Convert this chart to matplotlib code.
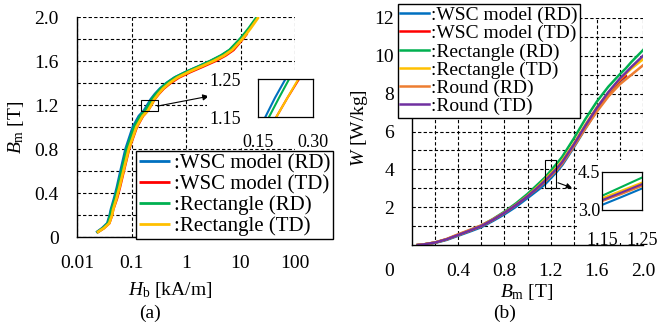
import matplotlib
matplotlib.use('Agg')
import matplotlib.pyplot as plt
from matplotlib.patches import Rectangle
from matplotlib.ticker import LogLocator, FixedLocator, NullFormatter

plt.rcParams['font.family'] = ['Liberation Serif', 'DejaVu Serif']
plt.rcParams['mathtext.fontset'] = 'custom'
plt.rcParams['mathtext.rm'] = 'Liberation Serif'
plt.rcParams['mathtext.it'] = 'Liberation Serif:italic'

# ---------------- data (a): B-H curves ----------------
Ba = [0.04, 0.08, 0.125, 0.2, 0.25, 0.35, 0.45, 0.6, 0.8, 1.0, 1.1, 1.15, 1.2, 1.25,
      1.3, 1.35, 1.4, 1.45, 1.5, 1.55, 1.6, 1.65, 1.7, 1.8, 1.85, 1.9, 2.0]
H_wsc_rd = [0.0225, 0.029, 0.036, 0.040, 0.042, 0.048, 0.054, 0.063, 0.078, 0.106, 0.137,
            0.170, 0.196, 0.225, 0.27, 0.335, 0.44, 0.62, 1.0, 1.7, 2.85, 4.5, 6.4, 10.0, 12.2]
H_wsc_td = [0.0232, 0.031, 0.039, 0.044, 0.046, 0.054, 0.061, 0.072, 0.090, 0.125, 0.162,
            0.200, 0.230, 0.262, 0.315, 0.39, 0.52, 0.74, 1.2, 2.05, 3.45, 5.3, 7.4, 11.0, 13.2]
H_rect_rd = [0.0229, 0.030, 0.037, 0.041, 0.043, 0.050, 0.056, 0.066, 0.082, 0.112, 0.145,
             0.180, 0.207, 0.235, 0.28, 0.345, 0.45, 0.63, 1.0, 1.7, 2.8, 4.4, 6.3, 9.8, 11.9, 14.3, 20.0]
H_rect_td = [0.0232, 0.031, 0.039, 0.044, 0.046, 0.053, 0.060, 0.071, 0.089, 0.123, 0.160,
             0.200, 0.230, 0.260, 0.31, 0.38, 0.50, 0.70, 1.12, 1.9, 3.2, 5.0, 7.0, 10.8, 13.0, 15.5, 21.5]

# ---------------- data (b): iron loss curves ----------------
Bb = [0.05, 0.1, 0.2, 0.3, 0.4, 0.5, 0.6, 0.7, 0.8, 0.9, 1.0, 1.1, 1.15, 1.2, 1.25,
      1.3, 1.4, 1.5, 1.6, 1.7, 1.8, 1.85, 1.9, 2.0]
W_wsc_rd = [0.0, 0.02, 0.11, 0.27, 0.49, 0.71, 0.94, 1.27, 1.62, 2.02, 2.48, 2.95, 3.20, 3.52,
            3.85, 4.22, 5.15, 6.15, 7.10, 7.95, 8.65, 8.90]
W_wsc_td = [0.0, 0.03, 0.13, 0.30, 0.53, 0.76, 1.00, 1.33, 1.70, 2.12, 2.58, 3.08, 3.37, 3.67,
            3.98, 4.34, 5.25, 6.25, 7.20, 8.00, 8.70, 8.95]
W_rect_rd = [0.0, 0.03, 0.13, 0.30, 0.54, 0.78, 1.03, 1.37, 1.76, 2.20, 2.70, 3.27, 3.56, 3.92,
             4.28, 4.66, 5.62, 6.65, 7.58, 8.37, 9.03, 9.33, 9.68, 10.3]
W_rect_td = [0.0, 0.03, 0.13, 0.30, 0.53, 0.76, 1.00, 1.33, 1.70, 2.12, 2.60, 3.15, 3.46, 3.77,
             4.08, 4.45, 5.35, 6.35, 7.28, 8.05, 8.76, 9.05, 9.33, 9.82]
W_round_rd = [0.0, 0.03, 0.14, 0.32, 0.57, 0.80, 1.04, 1.36, 1.72, 2.13, 2.58, 3.07, 3.35, 3.64,
              3.95, 4.30, 5.20, 6.15, 7.05, 7.85, 8.50, 8.75, 9.00, 9.50]
W_round_td = [0.0, 0.03, 0.13, 0.30, 0.53, 0.76, 1.00, 1.33, 1.70, 2.11, 2.57, 3.10, 3.39, 3.70,
              4.02, 4.38, 5.30, 6.30, 7.25, 8.08, 8.80, 9.10, 9.42, 10.0]

labels_a = [':WSC model (RD)', ':WSC model (TD)', ':Rectangle (RD)', ':Rectangle (TD)']
labels_b = labels_a + [':Round (RD)', ':Round (TD)']
colors = ['#0070C0', '#FF0000', '#00B050', '#FFC000', '#ED7D31', '#7030A0']

xticks_a = [0.01, 0.1, 1, 10, 100]
xticklabels_a = ['0.01', '0.1', '1', '10', '100']
yticks_a = [0, 0.4, 0.8, 1.2, 1.6, 2.0]
yticklabels_a = ['0', '0.4', '0.8', '1.2', '1.6', '2.0']
xticks_b = [0.4, 0.8, 1.2, 1.6, 2.0]
xticklabels_b = ['0.4', '0.8', '1.2', '1.6', '2.0']
yticks_b = [2, 4, 6, 8, 10, 12]
yticklabels_b = ['2', '4', '6', '8', '10', '12']

# ---------------- figure ----------------
FW, FH = 660, 323
fig = plt.figure(figsize=(6.6, 3.23), dpi=100)

def fx(px):
    return px / FW

def fy(py):
    return 1 - py / FH

grid_kw = dict(color='k', linestyle=(0, (3, 2)), linewidth=0.8)
FS = 14

ax1 = fig.add_axes([fx(77), fy(237), (295 - 77) / FW, (237 - 17) / FH])
ax2 = fig.add_axes([fx(412), fy(245), (643 - 412) / FW, (245 - 18) / FH])

# ---- panel (a)
series_a = [H_wsc_rd, H_wsc_td, H_rect_rd, H_rect_td]
for h, c, lab in zip(series_a, colors, labels_a):
    ax1.plot(h, Ba[:len(h)], color=c, lw=2.0, label=lab, solid_capstyle='butt')
ax1.set_xscale('log')
ax1.set_xlim(0.01, 100)
ax1.set_ylim(0, 2.0)
ax1.set_xticks(xticks_a)
ax1.set_xticklabels(xticklabels_a)
ax1.xaxis.set_minor_locator(LogLocator(base=10, subs=range(2, 10)))
ax1.xaxis.set_minor_formatter(NullFormatter())
ax1.set_yticks(yticks_a)
ax1.set_yticklabels(yticklabels_a)
ax1.yaxis.set_minor_locator(FixedLocator([0.2, 0.6, 1.0, 1.4, 1.8]))
ax1.grid(True, which='both', **grid_kw)

ax1.add_patch(Rectangle((0.15, 1.15), 0.15, 0.10, fill=False, edgecolor='k', lw=0.8, zorder=3))
ax1.annotate('', xy=(2.64, 1.28), xytext=(0.30, 1.19),
             arrowprops=dict(arrowstyle='-|>', color='k', lw=0.8, mutation_scale=9,
                             shrinkA=0, shrinkB=0), zorder=3)

leg1 = ax1.legend(loc='upper left', bbox_to_anchor=(fx(136), fy(151)),
                  bbox_transform=fig.transFigure, fontsize=15, frameon=True,
                  fancybox=False, edgecolor='k', framealpha=1, borderaxespad=0,
                  borderpad=0.15, labelspacing=0.05, handlelength=1.5, handletextpad=0.15)
leg1.get_frame().set_linewidth(1.0)

# ---- panel (b)
series_b = [W_wsc_rd, W_wsc_td, W_rect_rd, W_rect_td, W_round_rd, W_round_td]
for w, c, lab in zip(series_b, colors, labels_b):
    ax2.plot(Bb[:len(w)], w, color=c, lw=1.8, label=lab)
ax2.set_xlim(0, 2.0)
ax2.set_ylim(0, 12)
ax2.set_xticks(xticks_b)
ax2.set_xticklabels(xticklabels_b)
ax2.xaxis.set_minor_locator(FixedLocator([0.2, 0.6, 1.0, 1.4, 1.8]))
ax2.set_yticks(yticks_b)
ax2.set_yticklabels(yticklabels_b)
ax2.yaxis.set_minor_locator(FixedLocator([1, 3, 5, 7, 9, 11]))
ax2.grid(True, which='both', **grid_kw)

ax2.add_patch(Rectangle((1.15, 3.0), 0.10, 1.5, fill=False, edgecolor='k', lw=0.8, zorder=3))
ax2.annotate('', xy=(1.385, 3.02), xytext=(1.264, 3.29),
             arrowprops=dict(arrowstyle='-|>', color='k', lw=0.8, mutation_scale=8,
                             shrinkA=0, shrinkB=0), zorder=3)
ax2.annotate('0', xy=(0, 0), xytext=(-23 * 0.72, -27 * 0.72), textcoords='offset points',
             ha='center', va='center', fontsize=FS, annotation_clip=False)

leg2 = ax2.legend(loc='upper left', bbox_to_anchor=(fx(398), fy(4)),
                  bbox_transform=fig.transFigure, fontsize=14, frameon=True,
                  fancybox=False, edgecolor='k', framealpha=1, borderaxespad=0,
                  borderpad=0.12, labelspacing=0.03, handlelength=1.45, handletextpad=0.15)
leg2.get_frame().set_linewidth(1.0)

for ax in (ax1, ax2):
    ax.spines['top'].set_visible(False)
    ax.spines['right'].set_visible(False)
    ax.spines['left'].set_linewidth(1.0)
    ax.spines['bottom'].set_linewidth(1.0)
    ax.tick_params(which='both', length=0, labelsize=FS, pad=13)

# white areas behind the insets
fig.add_artist(Rectangle((fx(207), fy(148)), (331 - 207) / FW, (148 - 70) / FH,
                         transform=fig.transFigure, facecolor='white', edgecolor='none', zorder=1))
fig.add_artist(Rectangle((fx(577), fy(243)), (660 - 577) / FW, (243 - 160) / FH,
                         transform=fig.transFigure, facecolor='white', edgecolor='none', zorder=1))

# ---- inset (a)
ins1 = fig.add_axes([fx(258), fy(117), 55 / FW, 38 / FH])
ins1.set_zorder(2)
for h, c in zip(series_a, colors):
    ins1.plot(h, Ba[:len(h)], color=c, lw=1.5)
ins1.set_xlim(0.15, 0.30)
ins1.set_ylim(1.15, 1.25)
ins1.set_xticks([0.15, 0.30])
ins1.set_xticklabels(['0.15', '0.30'])
ins1.set_yticks([1.15, 1.25])
ins1.set_yticklabels(['1.15', '1.25'])
ins1.tick_params(length=0, labelsize=13)
ins1.tick_params(axis='x', pad=12)
ins1.tick_params(axis='y', pad=12)

# ---- inset (b)
ins2 = fig.add_axes([fx(602), fy(210), 40 / FW, 38 / FH])
ins2.set_zorder(2)
for w, c in zip(series_b, colors):
    ins2.plot(Bb[:len(w)], w, color=c, lw=1.5)
ins2.set_xlim(1.15, 1.25)
ins2.set_ylim(3.0, 4.5)
ins2.set_xticks([1.15, 1.25])
ins2.set_xticklabels(['1.15', '1.25'])
ins2.set_yticks([3.0, 4.5])
ins2.set_yticklabels(['3.0', '4.5'])
ins2.tick_params(length=0, labelsize=13)
ins2.tick_params(axis='x', pad=16)
ins2.tick_params(axis='y', pad=1.5)

for ins in (ins1, ins2):
    for s in ins.spines.values():
        s.set_linewidth(0.9)

# ---- axis labels and captions
fig.text(fx(170), fy(290), r'$H_{\rm b}$ [kA/m]', ha='center', va='center', fontsize=FS)
fig.text(fx(527), fy(292), r'$B_{\rm m}$ [T]', ha='center', va='center', fontsize=FS)
fig.text(fx(16), fy(127), r'$B_{\rm m}$ [T]', ha='center', va='center', rotation=90, fontsize=FS)
fig.text(fx(360), fy(128), r'$W$ [W/kg]', ha='center', va='center', rotation=90, fontsize=FS)
fig.text(fx(150), fy(322.5), '(a)', ha='center', va='bottom', fontsize=FS)
fig.text(fx(505), fy(322.5), '(b)', ha='center', va='bottom', fontsize=FS)

fig.savefig('out.png', dpi=100)
